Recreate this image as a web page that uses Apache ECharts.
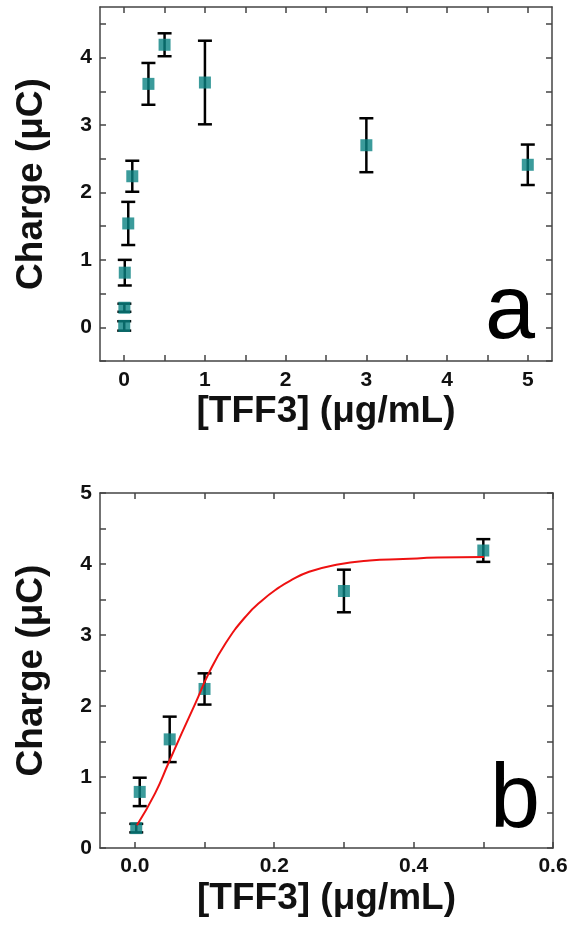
<!DOCTYPE html>
<html>
<head>
<meta charset="utf-8">
<script src="https://cdn.jsdelivr.net/npm/echarts@6/dist/echarts.min.js"></script>
<style>
  html, body { margin: 0; padding: 0; background: #fff; }
  #chart { width: 571px; height: 934px; }
</style>
</head>
<body>
<div id="chart"></div>
<script>
// panel a: all concentrations
const xA = [0, 0.002, 0.007, 0.05, 0.1, 0.3, 0.5, 1, 3, 5];
const chargeA = [0.02, 0.29, 0.81, 1.54, 2.24, 3.61, 4.19, 3.63, 2.70, 2.41];
const errA = [0.07, 0.06, 0.19, 0.32, 0.23, 0.31, 0.17, 0.62, 0.40, 0.30];

// panel b: low range with fit
const xB = [0.002, 0.007, 0.05, 0.1, 0.3, 0.5];
const chargeB = [0.28, 0.79, 1.53, 2.24, 3.62, 4.19];
const errB = [0.06, 0.20, 0.32, 0.22, 0.30, 0.16];

// fitted curve
const fitX = [0.003, 0.029, 0.048, 0.067, 0.087, 0.106, 0.130, 0.159, 0.183, 0.207, 0.222, 0.25, 0.289, 0.337, 0.385, 0.434, 0.501];
const fitY = [0.32, 0.77, 1.19, 1.61, 2.04, 2.46, 2.88, 3.26, 3.49, 3.67, 3.76, 3.89, 3.99, 4.05, 4.07, 4.09, 4.10];

// ticks
const tickXA = [0, 0.5, 1, 1.5, 2, 2.5, 3, 3.5, 4, 4.5, 5];
const labelXA = [0, 1, 2, 3, 4, 5];
const tickYA = [-0.5, 0, 0.5, 1, 1.5, 2, 2.5, 3, 3.5, 4, 4.5];
const labelYA = [0, 1, 2, 3, 4];
const tickXB = [0, 0.1, 0.2, 0.3, 0.4, 0.5, 0.6];
const labelXB = [0, 0.2, 0.4, 0.6];
const tickYB = [0, 0.5, 1, 1.5, 2, 2.5, 3, 3.5, 4, 4.5, 5];
const labelYB = [0, 1, 2, 3, 4, 5];

const FONT = 'Liberation Sans';
const frameColor = '#444';
const teal = '#0a8282';

const chart = echarts.init(document.getElementById('chart'));

function axisBase(ticks, labels, fmt, show){
    return {
        type: 'value',
        axisLine: {show: true, onZero: false, lineStyle: {color: frameColor, width: 1.5}},
        axisTick: {show: true, inside: true, length: 6, customValues: ticks,
            lineStyle: {color: frameColor, width: 1.5}},
        axisLabel: {show: show, customValues: labels, formatter: fmt,
            color: '#111', fontSize: 21, fontWeight: 'bold', fontFamily: FONT},
        splitLine: {show: false}
    };
}

function nameStyle(){
    return {color: '#111', fontSize: 37, fontWeight: 'bold', fontFamily: FONT};
}

function errBars(xs, ys, es, xi, yi){
    return {
        type: 'custom',
        xAxisIndex: xi, yAxisIndex: yi,
        z: 2,
        data: xs.map((x, i) => [x, ys[i], es[i]]),
        encode: {x: 0, y: 1},
        renderItem: function(params, api){
            const x = api.value(0), y = api.value(1), e = api.value(2);
            const t = api.coord([x, y + e]);
            const b = api.coord([x, y - e]);
            const w = 7;
            const st = {stroke: '#000', lineWidth: 2.5};
            return {type: 'group', children: [
                {type: 'line', shape: {x1: t[0], y1: t[1], x2: b[0], y2: b[1]}, style: st},
                {type: 'line', shape: {x1: t[0]-w, y1: t[1], x2: t[0]+w, y2: t[1]}, style: st},
                {type: 'line', shape: {x1: b[0]-w, y1: b[1], x2: b[0]+w, y2: b[1]}, style: st}
            ]};
        }
    };
}

const intFmt = v => String(Math.round(v));

const xa = axisBase(tickXA, labelXA, intFmt, true);
Object.assign(xa, {gridIndex: 0, min: -0.3, max: 5.3, position: 'bottom',
    name: '[TFF3] (μg/mL)', nameLocation: 'middle', nameGap: 32, nameTextStyle: nameStyle()});
xa.axisLabel.margin = 9;
const xaTop = axisBase(tickXA, labelXA, intFmt, false);
Object.assign(xaTop, {gridIndex: 0, min: -0.3, max: 5.3, position: 'top'});

const ya = axisBase(tickYA, labelYA, intFmt, true);
Object.assign(ya, {gridIndex: 0, min: -0.5, max: 4.75, position: 'left',
    name: 'Charge (μC)', nameLocation: 'middle', nameGap: 50, nameTextStyle: nameStyle()});
ya.axisLabel.margin = 8;
const yaRight = axisBase(tickYA, labelYA, intFmt, false);
Object.assign(yaRight, {gridIndex: 0, min: -0.5, max: 4.75, position: 'right'});

const xb = axisBase(tickXB, labelXB, v => v.toFixed(1), true);
Object.assign(xb, {gridIndex: 1, min: -0.05, max: 0.6, position: 'bottom',
    name: '[TFF3] (μg/mL)', nameLocation: 'middle', nameGap: 32, nameTextStyle: nameStyle()});
xb.axisLabel.margin = 8;
const xbTop = axisBase(tickXB, labelXB, null, false);
Object.assign(xbTop, {gridIndex: 1, min: -0.05, max: 0.6, position: 'top'});

const yb = axisBase(tickYB, labelYB, intFmt, true);
Object.assign(yb, {gridIndex: 1, min: 0, max: 5, position: 'left',
    name: 'Charge (μC)', nameLocation: 'middle', nameGap: 50, nameTextStyle: nameStyle()});
yb.axisLabel.margin = 8;
const ybRight = axisBase(tickYB, labelYB, intFmt, false);
Object.assign(ybRight, {gridIndex: 1, min: 0, max: 5, position: 'right'});

const option = {
    backgroundColor: '#fff',
    animation: false,
    grid: [
        {left: 100, top: 7, width: 452, height: 354},
        {left: 100, top: 493, width: 453, height: 355}
    ],
    xAxis: [xa, xaTop, xb, xbTop],
    yAxis: [ya, yaRight, yb, ybRight],
    graphic: [
        {type: 'text', right: 36, top: 268, style: {text: 'a', fontSize: 90, fontFamily: FONT, fill: '#000'}},
        {type: 'text', right: 31, top: 757, style: {text: 'b', fontSize: 90, fontFamily: FONT, fill: '#000'}}
    ],
    series: [
        errBars(xA, chargeA, errA, 0, 0),
        {
            type: 'scatter', xAxisIndex: 0, yAxisIndex: 0, z: 3,
            symbol: 'rect', symbolSize: 12,
            itemStyle: {color: teal},
            data: xA.map((x, i) => [x, chargeA[i]])
        },
        errBars(xB, chargeB, errB, 2, 2),
        {
            type: 'scatter', xAxisIndex: 2, yAxisIndex: 2, z: 3,
            symbol: 'rect', symbolSize: 12,
            itemStyle: {color: teal},
            data: xB.map((x, i) => [x, chargeB[i]])
        },
        {
            type: 'line', xAxisIndex: 2, yAxisIndex: 2, z: 4,
            smooth: true, showSymbol: false,
            lineStyle: {color: '#ee1111', width: 2},
            data: fitX.map((x, i) => [x, fitY[i]])
        }
    ]
};

chart.setOption(option);
</script>
</body>
</html>
